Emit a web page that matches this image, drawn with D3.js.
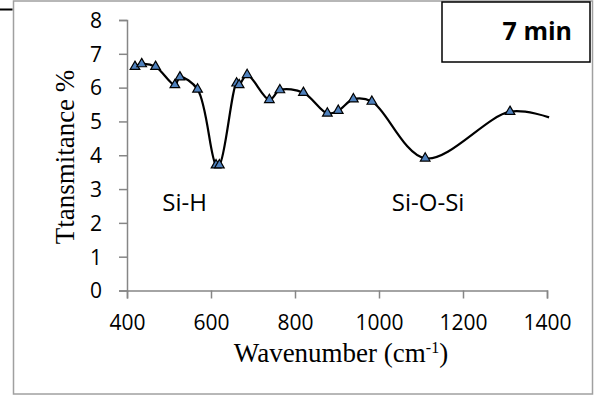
<!DOCTYPE html>
<html>
<head>
<meta charset="utf-8">
<script src="https://cdn.jsdelivr.net/npm/d3@7"></script>
<style>
  body { margin: 0; background: #fff; }
  svg { display: block; }
</style>
</head>
<body>
<svg id="chart" width="595" height="398"></svg>
<script>
// wavenumber (cm-1) and transmittance (%)
var wavenumber = [419, 435, 468, 514, 526, 568, 612, 620, 661, 667, 686, 739, 764, 820, 877, 903, 939, 983, 1110, 1312, 1405];
var transmittance = [6.62, 6.70, 6.62, 6.08, 6.31, 5.95, 3.71, 3.71, 6.13, 6.08, 6.38, 5.64, 5.93, 5.85, 5.24, 5.32, 5.66, 5.59, 3.91, 5.29, 5.12];
var xTicks = [400, 600, 800, 1000, 1200, 1400];
var yTicks = [0, 1, 2, 3, 4, 5, 6, 7, 8];
var seriesName = "7 min";
var peakLabels = [
    { text: "Si-H", w: 537, t: 2.35 },
    { text: "Si-O-Si", w: 1117, t: 2.35 }
];

var svg = d3.select("#chart");

var margin = { top: 20, left: 127 };
var width = 420;
var height = 270.5;

var x = d3.scaleLinear().domain([400, 1400]).range([0, width]);
var y = d3.scaleLinear().domain([0, 8]).range([height, 0]);

var axisColor = "#868686";
var tickFont = "'Open Sans', sans-serif";
var serif = "'Liberation Serif', 'Times New Roman', serif";

// outer chart frame
svg.append("rect")
    .attr("x", 13.5).attr("y", 1)
    .attr("width", 579).attr("height", 393)
    .style("fill", "none")
    .style("stroke", "#a0a0a0")
    .style("stroke-width", 1.5);

svg.append("line")
    .attr("x1", 0).attr("x2", 12.5)
    .attr("y1", 9.5).attr("y2", 9.5)
    .style("stroke", "#000")
    .style("stroke-width", 2);

var focus = svg.append("g")
    .attr("transform", "translate(" + margin.left + "," + margin.top + ")");

var xAxis = d3.axisBottom(x).tickValues(xTicks).tickFormat(d3.format("d"))
    .tickSizeInner(8).tickSizeOuter(8).tickPadding(12);
var yAxis = d3.axisLeft(y).tickValues(yTicks).tickFormat(d3.format("d"))
    .tickSizeInner(8).tickSizeOuter(8).tickPadding(17);

var gx = focus.append("g")
    .attr("transform", "translate(0," + height + ")")
    .call(xAxis);
var gy = focus.append("g").call(yAxis);

[gx, gy].forEach(function(g) {
    g.selectAll("path, line").style("stroke", axisColor).style("stroke-width", 1.5);
    g.selectAll("text")
        .style("font-family", tickFont)
        .style("font-size", "21px")
        .style("fill", "#000");
});
gy.selectAll("text").attr("dy", "0.35em");
gx.selectAll("text").attr("dy", "0.95em");

// smoothed line (centripetal spline avoids a cusp at the close Si-H points)
var line = d3.line()
    .curve(d3.curveCatmullRom.alpha(0.5))
    .x(function(d, i) { return x(wavenumber[i]); })
    .y(function(d) { return y(d); });

focus.append("path")
    .datum(transmittance)
    .style("fill", "none")
    .style("stroke", "#000")
    .style("stroke-width", 2.2)
    .attr("d", line);

// markers on all measured points except the last curve end
var tri = d3.symbol().type(d3.symbolTriangle).size(40);
focus.selectAll(".marker")
    .data(transmittance.slice(0, -1))
    .enter().append("path")
    .attr("class", "marker")
    .attr("d", tri)
    .attr("transform", function(d, i) {
        return "translate(" + x(wavenumber[i]) + "," + y(d) + ")";
    })
    .style("fill", "#4f81bd")
    .style("stroke", "#000")
    .style("stroke-width", 1.2);

// peak labels
focus.selectAll(".peak")
    .data(peakLabels)
    .enter().append("text")
    .attr("class", "peak")
    .attr("x", function(d) { return x(d.w); })
    .attr("y", function(d) { return y(d.t); })
    .attr("text-anchor", "middle")
    .style("font-family", tickFont)
    .style("font-size", "24px")
    .style("fill", "#000")
    .text(function(d) { return d.text; });

// axis titles
svg.append("text")
    .attr("transform", "translate(74,157) rotate(-90)")
    .attr("text-anchor", "middle")
    .style("font-family", serif)
    .style("font-size", "27px")
    .style("fill", "#000")
    .text("Ttansmitance %");

var xt = svg.append("text")
    .attr("x", 341)
    .attr("y", 362)
    .attr("text-anchor", "middle")
    .style("font-family", serif)
    .style("font-size", "27px")
    .style("fill", "#000");
xt.append("tspan").text("Wavenumber (cm");
xt.append("tspan").attr("dy", -9).style("font-size", "16px").text("-1");
xt.append("tspan").attr("dy", 9).text(")");

// legend box
svg.append("rect")
    .attr("x", 442).attr("y", 2)
    .attr("width", 148).attr("height", 60)
    .style("fill", "#fff")
    .style("stroke", "#000")
    .style("stroke-width", 1.5);

svg.append("text")
    .attr("x", 572)
    .attr("y", 40)
    .attr("text-anchor", "end")
    .style("font-family", tickFont)
    .style("font-weight", "bold")
    .style("font-size", "25px")
    .style("fill", "#000")
    .text(seriesName);
</script>
</body>
</html>
